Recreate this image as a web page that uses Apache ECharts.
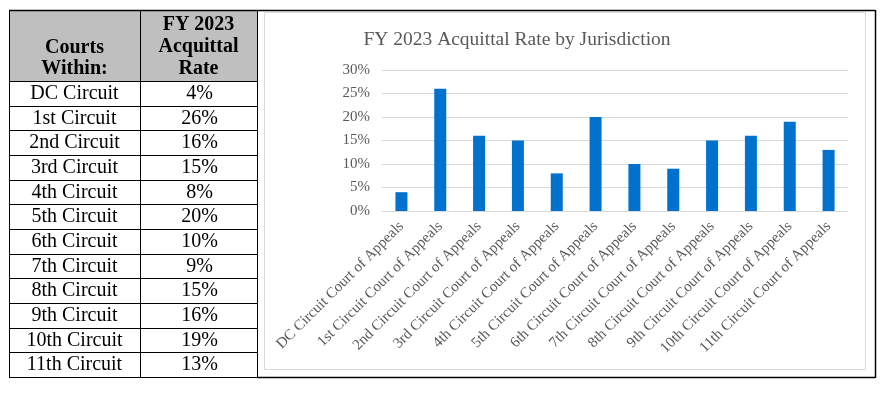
<!DOCTYPE html>
<html><head><meta charset="utf-8">
<script src="https://cdn.jsdelivr.net/npm/echarts@6/dist/echarts.min.js"></script>
<style>html,body{margin:0;padding:0;background:#fff}#c{width:889px;height:393px}</style>
</head><body><div id="c"></div>
<script>
var tableCourts = ["DC Circuit","1st Circuit","2nd Circuit","3rd Circuit","4th Circuit","5th Circuit","6th Circuit","7th Circuit","8th Circuit","9th Circuit","10th Circuit","11th Circuit"];
var chartCategories = ["DC Circuit Court of Appeals","1st Circuit Court of Appeals","2nd Circuit Court of Appeals","3rd Circuit Court of Appeals","4th Circuit Court of Appeals","5th Circuit Court of Appeals","6th Circuit Court of Appeals","7th Circuit Court of Appeals","8th Circuit Court of Appeals","9th Circuit Court of Appeals","10th Circuit Court of Appeals","11th Circuit Court of Appeals"];
var acquittalRates = [4,26,16,15,8,20,10,9,15,16,19,13];
var headerCol1 = ["Courts","Within:"];
var headerCol2 = ["FY 2023","Acquittal","Rate"];
var chartTitle = "FY 2023 Acquittal Rate by Jurisdiction";

var serif = "Liberation Serif";
var chart = echarts.init(document.getElementById('c'), null, {renderer:'canvas'});

var L = 9, M = 140, R = 257, T = 10, HB = 81, B = 377, CR = 875;
var rowH = (B - HB) / tableCourts.length;
var g = [];
function txt(x, y, t, bold) {
  return {type:'text', x:x, y:y, z:3,
    style:{text:t, fontFamily:serif, fontSize:20, fontWeight:bold?'bold':'normal', fill:'#000', align:'center', verticalAlign:'middle'}};
}
g.push({type:'rect', shape:{x:L, y:T, width:R-L, height:HB-T}, style:{fill:'#bfbfbf'}, z:0});
for (var i = 0; i <= tableCourts.length; i++) {
  var y = Math.round(HB + i*rowH) + 0.5;
  g.push({type:'line', shape:{x1:L, y1:y, x2:R, y2:y}, style:{stroke:'#000', lineWidth:1}, z:2});
}
g.push({type:'line', shape:{x1:L, y1:T+0.5, x2:CR, y2:T+0.5}, style:{stroke:'#000', lineWidth:1.5}, z:2});
g.push({type:'line', shape:{x1:L+0.5, y1:T, x2:L+0.5, y2:B}, style:{stroke:'#000', lineWidth:1}, z:2});
g.push({type:'line', shape:{x1:M+0.5, y1:T, x2:M+0.5, y2:B}, style:{stroke:'#000', lineWidth:1}, z:2});
g.push({type:'line', shape:{x1:R+0.5, y1:T, x2:R+0.5, y2:B}, style:{stroke:'#000', lineWidth:1}, z:2});
g.push({type:'line', shape:{x1:R, y1:B+0.5, x2:CR, y2:B+0.5}, style:{stroke:'#000', lineWidth:1.5}, z:2});
g.push({type:'line', shape:{x1:CR+0.5, y1:T, x2:CR+0.5, y2:B+1}, style:{stroke:'#000', lineWidth:1.5}, z:2});
g.push({type:'rect', shape:{x:264.5, y:12.5, width:601, height:357}, style:{fill:'none', stroke:'#d9d9d9', lineWidth:1}, z:1});
headerCol1.forEach(function(t, k){ g.push(txt((L+M)/2, 48 + k*21, t, true)); });
headerCol2.forEach(function(t, k){ g.push(txt((M+R)/2, 25 + k*22, t, true)); });
tableCourts.forEach(function(t, k){
  var cy = HB + (k+0.5)*rowH + 0.5;
  g.push(txt((L+M)/2, cy, t, false));
  g.push(txt((M+R)/2 + 1, cy, acquittalRates[k]+'%', false));
});

chart.setOption({
  backgroundColor:'#fff',
  animation:false,
  title:{text:chartTitle, left:512, top:25, textAlign:'center',
    textStyle:{fontFamily:serif, fontSize:19.5, fontWeight:'normal', color:'#595959'}},
  grid:{left:382, right:41, top:70, bottom:182, containLabel:false},
  xAxis:{type:'category', data:chartCategories,
    axisLine:{lineStyle:{color:'#d9d9d9'}}, axisTick:{show:false},
    axisLabel:{interval:0, rotate:45, fontFamily:serif, fontSize:15, color:'#595959', margin:13}},
  yAxis:{type:'value', min:0, max:30, interval:5,
    axisLine:{show:false}, axisTick:{show:false},
    splitLine:{lineStyle:{color:'#d9d9d9'}},
    axisLabel:{formatter:'{value}%', fontFamily:serif, fontSize:15, color:'#595959', margin:12}},
  series:[{type:'bar', data:acquittalRates, barWidth:12, itemStyle:{color:'#0072CE'}}],
  graphic:g
});
</script></body></html>
